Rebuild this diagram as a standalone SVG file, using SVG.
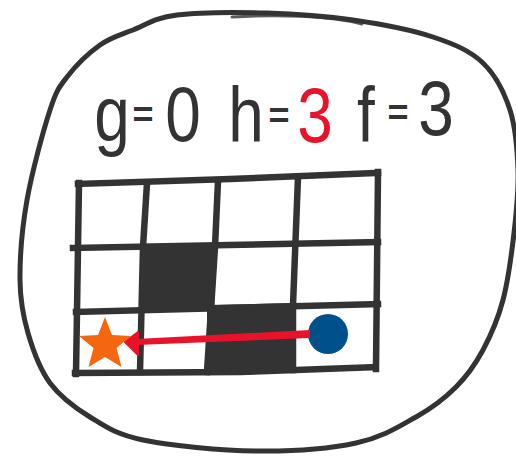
<svg xmlns="http://www.w3.org/2000/svg" width="516" height="458" viewBox="0 0 516 458">
  <style>
    .ink { fill: none; stroke: #333333; stroke-linecap: round; stroke-linejoin: round; }
    .grid { fill: none; stroke: #333333; stroke-width: 6.5; stroke-linecap: square; stroke-linejoin: miter; }
    .wall { fill: #333333; }
    .lbl { font-family: "Liberation Sans", Arial, sans-serif; fill: #333333; text-anchor: middle; }
    .big { font-size: 78px; }
    .eq { font-size: 36px; font-weight: bold; }
  </style>
  <rect width="516" height="458" fill="#ffffff"/>

  <g id="frame">
    <path class="ink" stroke-width="5" d="M177,15 C199.3,12.2 237.7,12.2 267,13 C296.3,13.8 325.3,16 353,20 C380.7,24 411.3,29.8 433,37 C454.7,44.2 470.2,50.8 483,63 C495.8,75.2 504.2,92.2 510,110 C515.8,127.8 517.3,149.5 518,170 C518.7,190.5 516.5,211.3 514,233 C511.5,254.7 508.2,280.5 503,300 C497.8,319.5 490.8,335.5 483,350 C475.2,364.5 467.2,375.8 456,387 C444.8,398.2 432.7,407.7 416,417 C399.3,426.3 382.7,437.3 356,443 C329.3,448.7 291.5,451.5 256,451 C220.5,450.5 170.7,445.7 143,440 C115.3,434.3 105.5,426.5 90,417 C74.5,407.5 60.3,397 50,383 C39.7,369 33,350.2 28,333 C23,315.8 20.2,302.2 20,280 C19.8,257.8 22,228.3 27,200 C32,171.7 43.3,130.5 50,110 C56.7,89.5 58.7,87.8 67,77 C75.3,66.2 89,52.8 100,45 C111,37.2 120.2,35 133,30 C145.8,25 154.7,17.8 177,15 Z"/>
    <path class="ink" stroke-width="3" opacity="0.8" d="M232,17 C280,14 330,16 362,24"/>
  </g>

  <g id="label">
    <text class="lbl big" transform="matrix(0.82 0 0 1 112 141)">g</text>
    <text class="lbl eq" x="143" y="127">=</text>
    <text class="lbl big" transform="matrix(0.82 0 0 1 183 141)">0</text>
    <text class="lbl big" transform="matrix(0.82 0 0 1 246 142)">h</text>
    <text class="lbl eq" x="279" y="128">=</text>
    <text class="lbl big" transform="matrix(0.82 0 0 1 315 142)" style="fill:#e8132b">3</text>
    <text class="lbl big" transform="matrix(0.82 0 0 1 366 142)">f</text>
    <text class="lbl eq" x="398" y="125">=</text>
    <text class="lbl big" transform="matrix(0.82 0 0 1 436 135)">3</text>
  </g>

  <g id="grid">
    <polygon class="wall" points="143,246 217,245 214,310 141,313"/>
    <polygon class="wall" points="207,305 295,303 295,370 207,373"/>
    <path class="grid" d="M78,184 L230,179 L378,173"/>
    <path class="grid" d="M75,373 L240,372 L375,367"/>
    <path class="grid" d="M79,183 L76,374"/>
    <path class="grid" d="M378,172 L376,369"/>
    <path class="grid" d="M73,248 L378,242"/>
    <path class="grid" d="M76,312 L378,304"/>
    <path class="grid" d="M147,183 L143,247 L140,372"/>
    <path class="grid" d="M218,181 L215,247 L207,372"/>
    <path class="grid" d="M298,177 L293,305 L293,370"/>
  </g>

  <g id="goal">
    <polygon fill="#f5670f" points="105,317 112,335 131,336 116.5,348 121.5,367 105,357 88.5,367 93.5,348 79,336 98,335"/>
  </g>

  <g id="start">
    <circle cx="328" cy="334" r="20" fill="#00508c"/>
  </g>

  <g id="connectors">
    <polygon fill="#e8132b" points="310,330 310,338 136,345 136,339"/>
    <polygon fill="#e8132b" stroke="#e8132b" stroke-width="2" stroke-linejoin="round" points="125,342 138,332 138,355"/>
  </g>
</svg>
